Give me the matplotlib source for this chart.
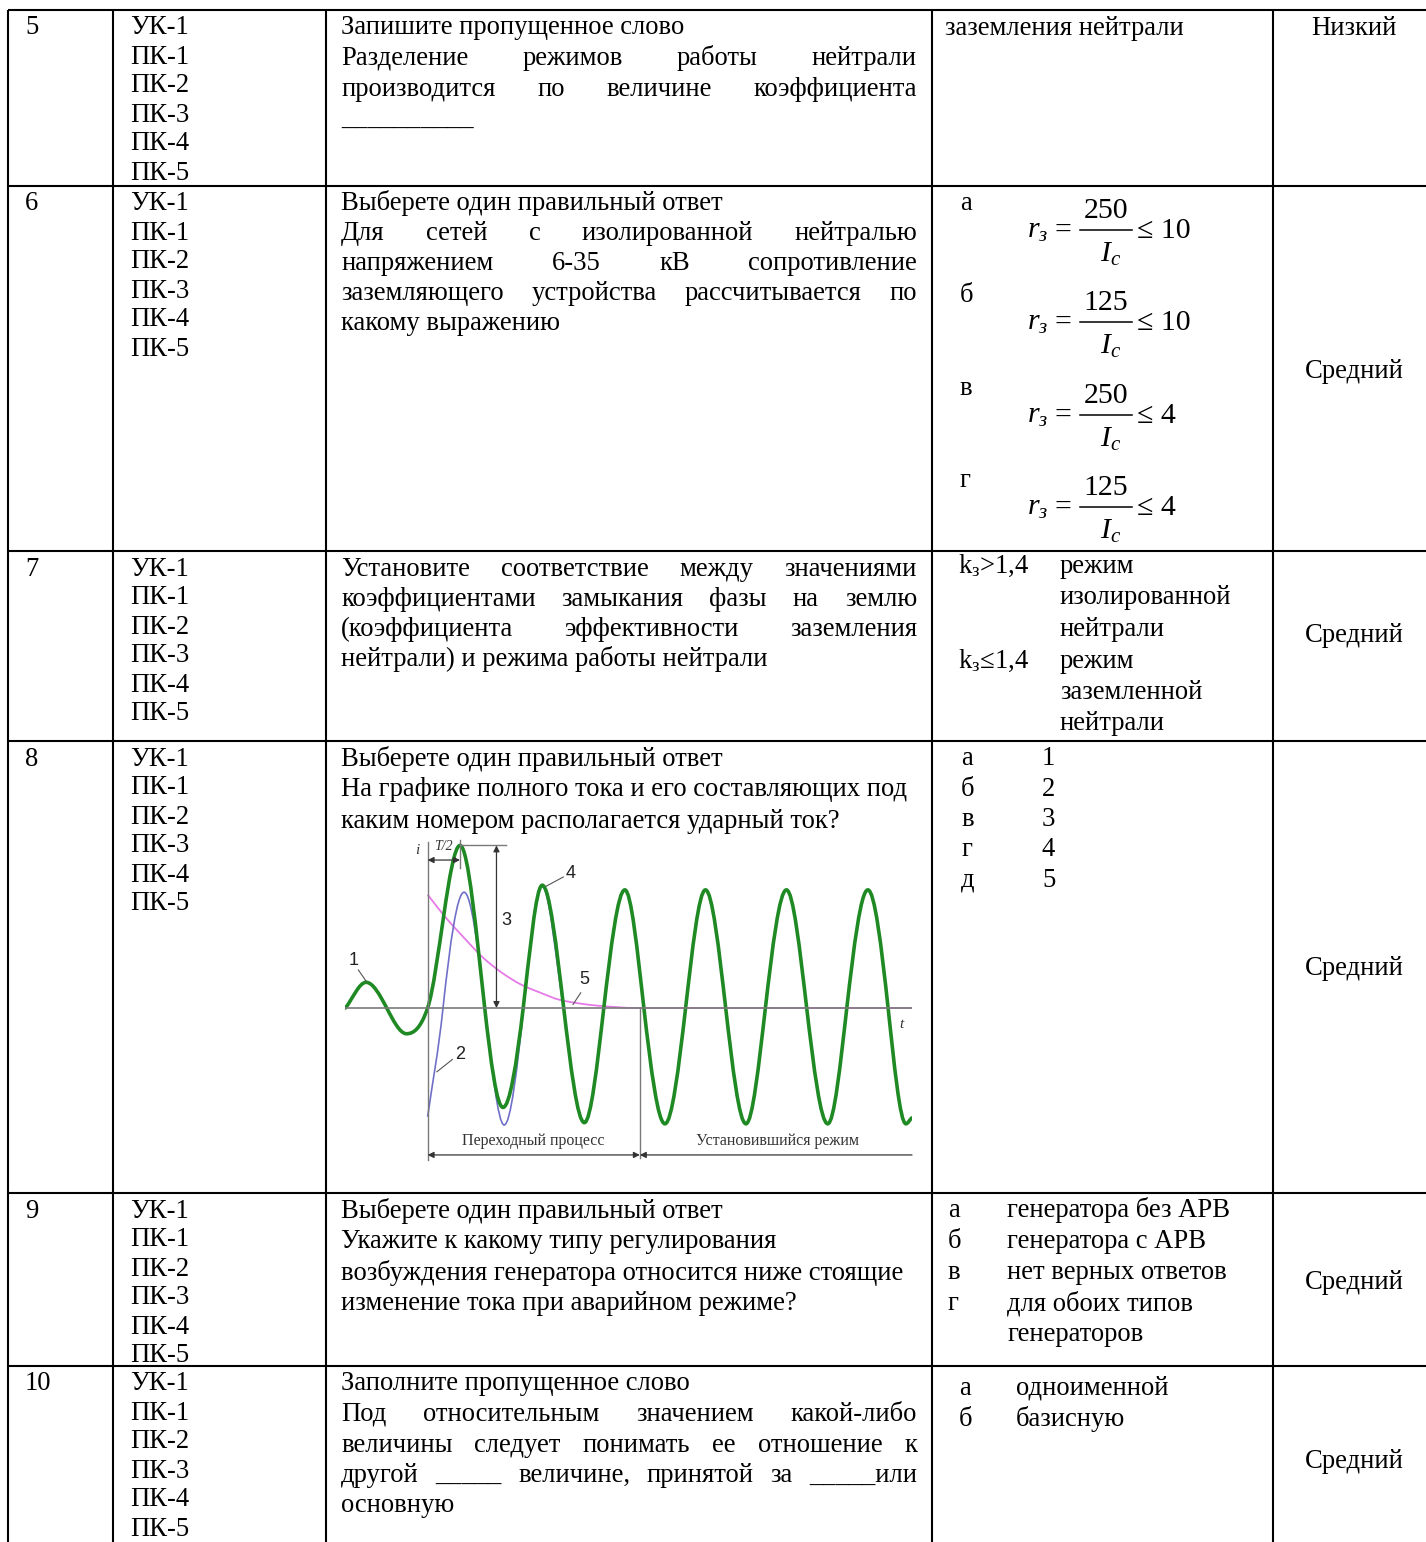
import matplotlib
matplotlib.use("Agg")
import numpy as np
import matplotlib.pyplot as plt
from matplotlib.path import Path
from matplotlib.patches import PathPatch

plt.rcParams['font.family'] = ['Liberation Serif', 'DejaVu Serif']
plt.rcParams['mathtext.fontset'] = 'custom'
plt.rcParams['mathtext.rm'] = 'Liberation Serif'
plt.rcParams['mathtext.it'] = 'Liberation Serif:italic'
plt.rcParams['mathtext.bf'] = 'Liberation Serif:bold'

W, H = 1426, 1542

# ---- table content ----
task_numbers = ["5", "6", "7", "8", "9", "10"]
competences = ["УК-1", "ПК-1", "ПК-2", "ПК-3", "ПК-4", "ПК-5"]
levels = ["Низкий", "Средний", "Средний", "Средний", "Средний", "Средний"]

# question text: (line, justified?)
questions = [
    [("Запишите пропущенное слово", False),
     ("Разделение режимов работы нейтрали", True),
     ("производится по величине коэффициента", True),
     ("__________", False)],
    [("Выберете один правильный ответ", False),
     ("Для сетей с изолированной нейтралью", True),
     ("напряжением 6-35 кВ сопротивление", True),
     ("заземляющего устройства рассчитывается по", True),
     ("какому выражению", False)],
    [("Установите соответствие между значениями", True),
     ("коэффициентами замыкания фазы на землю", True),
     ("(коэффициента эффективности заземления", True),
     ("нейтрали) и режима работы нейтрали", False)],
    [("Выберете один правильный ответ", False),
     ("На графике полного тока и его составляющих под", False),
     ("каким номером располагается ударный ток?", False)],
    [("Выберете один правильный ответ", False),
     ("Укажите к какому типу регулирования", False),
     ("возбуждения генератора относится ниже стоящие", False),
     ("изменение тока при аварийном режиме?", False)],
    [("Заполните пропущенное слово", False),
     ("Под относительным значением какой-либо", True),
     ("величины следует понимать ее отношение к", True),
     ("другой _____ величине, принятой за _____или", True),
     ("основную", False)],
]

answer5 = "заземления нейтрали"
formula_letters = ["а", "б", "в", "г"]
formula_nums = ["250", "125", "250", "125"]
formula_limits = ["10", "10", "4", "4"]
match_keys = [r"$\mathrm{k}_{\mathrm{з}}$>1,4", r"$\mathrm{k}_{\mathrm{з}}$≤1,4"]
match_modes = [["режим", "изолированной", "нейтрали"],
               ["режим", "заземленной", "нейтрали"]]
choice8_letters = ["а", "б", "в", "г", "д"]
choice8_values = ["1", "2", "3", "4", "5"]
choice9_letters = ["а", "б", "в", "г", ""]
choice9_values = ["генератора без АРВ", "генератора с АРВ", "нет верных ответов",
                  "для обоих типов", "генераторов"]
choice10_letters = ["а", "б"]
choice10_values = ["одноименной", "базисную"]

# ---- chart data (t in ms, current in p.u.) ----
green_t = [-20.3, -15.2, -10.1, -5.2, 0.0, 8.0, 14.1, 18.6, 23.6, 28.3, 33.6, 38.7,
           43.5, 48.7, 53.4, 58.6, 63.7, 68.6, 73.6, 78.6, 83.4, 88.6, 93.6, 98.8,
           103.5, 108.7, 113.7, 118.1, 119.5]
green_i = [0.0, 0.22, 0.0, -0.22, 0.0, 1.39, 0.0, -0.85, 0.0, 1.05, 0.0, -0.98,
           0.0, 1.01, 0.0, -0.99, 0.0, 1.01, 0.0, -0.99, 0.0, 1.01, 0.0, -0.99,
           0.0, 1.01, 0.0, -0.99, -0.94]
blue_t = [0.0, 3.8, 9.0, 14.2, 18.9, 23.7, 28.3, 33.6]
blue_i = [-0.93, 0.0, 0.99, 0.0, -1.0, 0.0, 1.04, 0.0]
pink_t = [0.0, 4.3, 9.0, 13.7, 18.4, 23.1, 27.9, 32.6, 37.3, 42.0, 51.5, 119.6]
pink_i = [0.97, 0.78, 0.60, 0.43, 0.30, 0.20, 0.13, 0.07, 0.04, 0.02, 0.0, 0.0]
shock_peak_t = 8.0
shock_peak_i = 1.39
transient_end_t = 52.4
curve_labels = ["1", "2", "3", "4", "5"]
label_pos = [(-18.2, 0.41), (8.0, -0.40), (19.4, 0.75), (35.2, 1.15), (38.7, 0.24)]
leaders = [((-17.1, 0.325), (-15.1, 0.225)), ((6.1, -0.44), (2.3, -0.545)), None,
           ((33.5, 1.12), (29.2, 1.04)), ((37.8, 0.13), (35.9, 0.03))]
stage_names = ["Переходный процесс", "Установившийся режим"]

# ---- layout ----
row_tops = [10, 186, 551, 741, 1193, 1366]
col_lines = [8, 112.7, 326, 932, 1273]
FS = 19.2
X_NUM, X_COMP, X_Q, X_Q_RIGHT = 25, 130, 341, 917
X_LEVEL = 1354
level_base = [35, 378, 642, 975, 1289, 1468]
q_step = [30.5, 30.0, 30.0, 31.0, 31.0, 30.5]

fig = plt.figure(figsize=(W / 100, H / 100), dpi=100)
ax = fig.add_axes([0, 0, 1, 1])
ax.set_xlim(0, W)
ax.set_ylim(H, 0)
ax.axis("off")
renderer = fig.canvas.get_renderer()


def put(x, y, s, **kw):
    kw.setdefault("fontsize", FS)
    return ax.text(x, y, s, ha=kw.pop("ha", "left"), va="baseline", **kw)


def put_line(x, y, s, justify, right=X_Q_RIGHT):
    if not justify:
        put(x, y, s)
        return
    words = s.split()
    texts = [put(0, y, w) for w in words]
    widths = [t.get_window_extent(renderer).width for t in texts]
    gap = (right - x - sum(widths)) / (len(words) - 1)
    pos = x
    for t, w in zip(texts, widths):
        t.set_x(pos)
        pos += w + gap


# grid
ax.hlines(row_tops, col_lines[0], W + 20, color="black", lw=1.5)
ax.vlines(col_lines, row_tops[0], H + 20, color="black", lw=1.5)

for r, top in enumerate(row_tops):
    base = top + 24.5
    put(X_NUM, base, task_numbers[r])
    for k, c in enumerate(competences):
        put(X_COMP, base + 29 * k, c)
    for k, (line, just) in enumerate(questions[r]):
        put_line(X_Q, base + q_step[r] * k, line, just)
    put(X_LEVEL, level_base[r], levels[r], ha="center")

# answers
put(945, 35, answer5)
FF = 21.5
for k, (let, num, lim) in enumerate(zip(formula_letters, formula_nums, formula_limits)):
    yb = 210 + 92.3 * k
    put(960, yb, let)
    # r_з = num / I_c <= lim, laid out piece by piece
    put(1027, yb + 28, r"$r_{з}$", fontsize=FF)
    put(1054, yb + 28, "=", fontsize=FF)
    put(1106, yb + 8, num, fontsize=FF, ha="center")
    ax.plot([1080, 1132], [yb + 20, yb + 20], color="black", lw=1.1)
    put(1100, yb + 52, r"$I_{c}$", fontsize=FF)
    put(1137, yb + 28, "≤ " + lim, fontsize=FF)
for k, key in enumerate(match_keys):
    yb = 573 + 3 * 31.5 * k
    put(958, yb, key)
    for j, m in enumerate(match_modes[k]):
        put(1060, yb + 31.5 * j, m)
for k, (let, v) in enumerate(zip(choice8_letters, choice8_values)):
    yb = 765 + 30.5 * k
    put(961, yb, let)
    put(1042, yb, v)
for k, (let, v) in enumerate(zip(choice9_letters, choice9_values)):
    yb = 1217 + 31 * k
    put(948, yb, let)
    put(1007, yb, v)
for k, (let, v) in enumerate(zip(choice10_letters, choice10_values)):
    yb = 1395 + 31 * k
    put(959, yb, let)
    put(1016, yb, v)


# ---- current chart ----
def smooth_path(t, v, steep=1.0):
    # cubic Hermite through the read points, drawn as Bezier segments
    t = np.asarray(t, float)
    v = np.asarray(v, float)
    n = len(t)
    s = np.diff(v) / np.diff(t)
    m = np.zeros(n)
    m[0], m[-1] = s[0], s[-1]
    for k in range(1, n - 1):
        sl, sr = s[k - 1], s[k]
        if sl * sr <= 0:
            m[k] = 0.0
        else:
            harm = 2 * sl * sr / (sl + sr)
            lim = 3 * min(abs(sl), abs(sr)) * np.sign(sl)
            m[k] = harm * steep if abs(harm * steep) < abs(lim) else lim
    verts = [(t[0], v[0])]
    codes = [Path.MOVETO]
    for k in range(n - 1):
        d = (t[k + 1] - t[k]) / 3
        verts += [(t[k] + d, v[k] + m[k] * d), (t[k + 1] - d, v[k + 1] - m[k + 1] * d),
                  (t[k + 1], v[k + 1])]
        codes += [Path.CURVE4] * 3
    return Path(verts, codes)


cx0, cx1, cy0, cy1 = 345, 912, 835, 1165
ax2 = fig.add_axes([cx0 / W, 1 - cy1 / H, (cx1 - cx0) / W, (cy1 - cy0) / H])
ax2.set_xlim(-20.4, 119.6)
ax2.set_ylim(-1.342, 1.479)
ax2.axis("off")

gray = "#7a7a7a"
ax2.plot([-20.4, 119.6], [0, 0], color=gray, lw=1.2)
ax2.plot([0, 0], [-1.30, 1.42], color=gray, lw=1.0)
ax2.plot([transient_end_t, transient_end_t], [-1.28, 0], color=gray, lw=1.0)
ax2.plot([shock_peak_t, shock_peak_t], [1.197, 1.436], color=gray, lw=1.0)
ax2.plot([shock_peak_t, 19.4], [shock_peak_i, shock_peak_i], color=gray, lw=1.0)

ax2.add_patch(PathPatch(smooth_path(pink_t, pink_i), fill=False, ec="#e67ae6", lw=1.3))
ax2.add_patch(PathPatch(smooth_path(blue_t, blue_i, 1.5), fill=False, ec="#7070c8", lw=1.2))
ax2.add_patch(PathPatch(smooth_path(green_t, green_i, 1.5), fill=False, ec="#1f8a24", lw=2.6,
                        capstyle="round", joinstyle="round"))

arw = dict(color="#333333", lw=0.9, shrinkA=0, shrinkB=0, mutation_scale=9)
ax2.annotate("", xy=(17.0, shock_peak_i), xytext=(17.0, 0), arrowprops=dict(arrowstyle="<|-|>", **arw))
ax2.annotate("", xy=(shock_peak_t, 1.265), xytext=(0, 1.265), arrowprops=dict(arrowstyle="<|-|>", **arw))
ax2.annotate("", xy=(transient_end_t, -1.256), xytext=(0, -1.256), arrowprops=dict(arrowstyle="<|-|>", **arw))
ax2.annotate("", xy=(119.6, -1.256), xytext=(transient_end_t, -1.256), arrowprops=dict(arrowstyle="<|-", **arw))

for lab, (lt, li), ld in zip(curve_labels, label_pos, leaders):
    ax2.text(lt, li, lab, fontsize=13, family=["Liberation Sans", "DejaVu Sans"], color="#222222",
             ha="center", va="center")
    if ld is not None:
        ax2.plot([ld[0][0], ld[1][0]], [ld[0][1], ld[1][1]], color="#555555", lw=0.8)

ax2.text(-2.6, 1.35, "i", fontsize=11, style="italic", color="#333333", ha="center", va="center")
ax2.text(3.8, 1.38, "T/2", fontsize=10, style="italic", color="#333333", ha="center", va="center")
ax2.text(117.1, -0.145, "t", fontsize=11, style="italic", color="#333333", ha="center", va="center")
ax2.text(26.0, -1.14, stage_names[0], fontsize=11.5, color="#333333", ha="center", va="center")
ax2.text(86.5, -1.14, stage_names[1], fontsize=11.5, color="#333333", ha="center", va="center")

fig.savefig("out.png", dpi=100)
